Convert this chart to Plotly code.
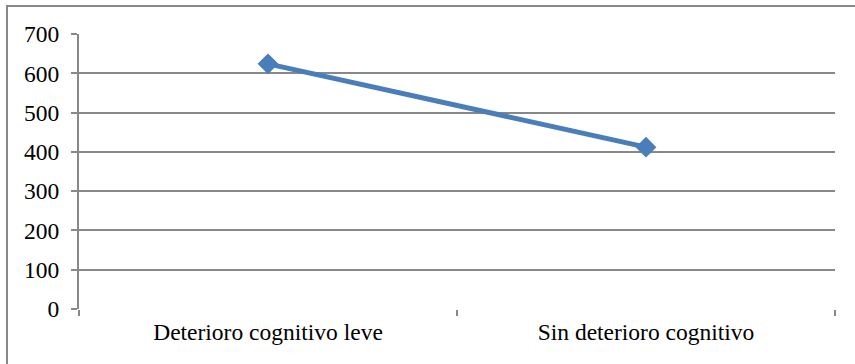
import plotly.graph_objects as go

# Data
categories = ["Deterioro cognitivo leve", "Sin deterioro cognitivo"]
values = [624, 412]
y_ticks = [0, 100, 200, 300, 400, 500, 600, 700]

W, H = 855, 364
ML, MR, MT, MB = 79, 20, 34, 55
pw = W - ML - MR
ph = H - MT - MB

fig = go.Figure(
    go.Scatter(
        x=categories,
        y=values,
        mode="lines+markers",
        line=dict(color="#4a7ebb", width=5),
        marker=dict(symbol="diamond", size=16, color="#4a7ebb"),
        showlegend=False,
    )
)

font = dict(family="Liberation Serif", size=23.5, color="#000000")

# outer chart frame
fig.add_shape(
    type="rect",
    xref="paper", yref="paper",
    x0=(7 - ML) / pw, x1=(W + 10 - ML) / pw,
    y0=-(H + 10 - MT - ph) / ph, y1=(H - MB - 6) / ph,
    line=dict(color="#888888", width=2),
    fillcolor="rgba(0,0,0,0)",
    layer="below",
)

fig.update_layout(
    width=W, height=H,
    margin=dict(l=ML, r=MR, t=MT, b=MB),
    paper_bgcolor="white",
    plot_bgcolor="white",
    font=font,
    xaxis=dict(
        type="category",
        range=[-0.5, 1.5],
        tickson="boundaries",
        ticks="outside",
        ticklen=6,
        tickcolor="#888888",
        tickwidth=2,
        showgrid=False,
        showline=False,
        zeroline=False,
        tickfont=font,
        ticklabelstandoff=6,
    ),
    yaxis=dict(
        range=[0, 700],
        tickvals=y_ticks,
        ticks="outside",
        ticklen=6,
        tickcolor="#888888",
        tickwidth=2,
        showgrid=True,
        gridcolor="#888888",
        gridwidth=2,
        showline=True,
        linecolor="#888888",
        linewidth=2,
        zeroline=False,
        tickfont=font,
        ticklabelstandoff=7,
    ),
)

fig.write_html("out.html")
